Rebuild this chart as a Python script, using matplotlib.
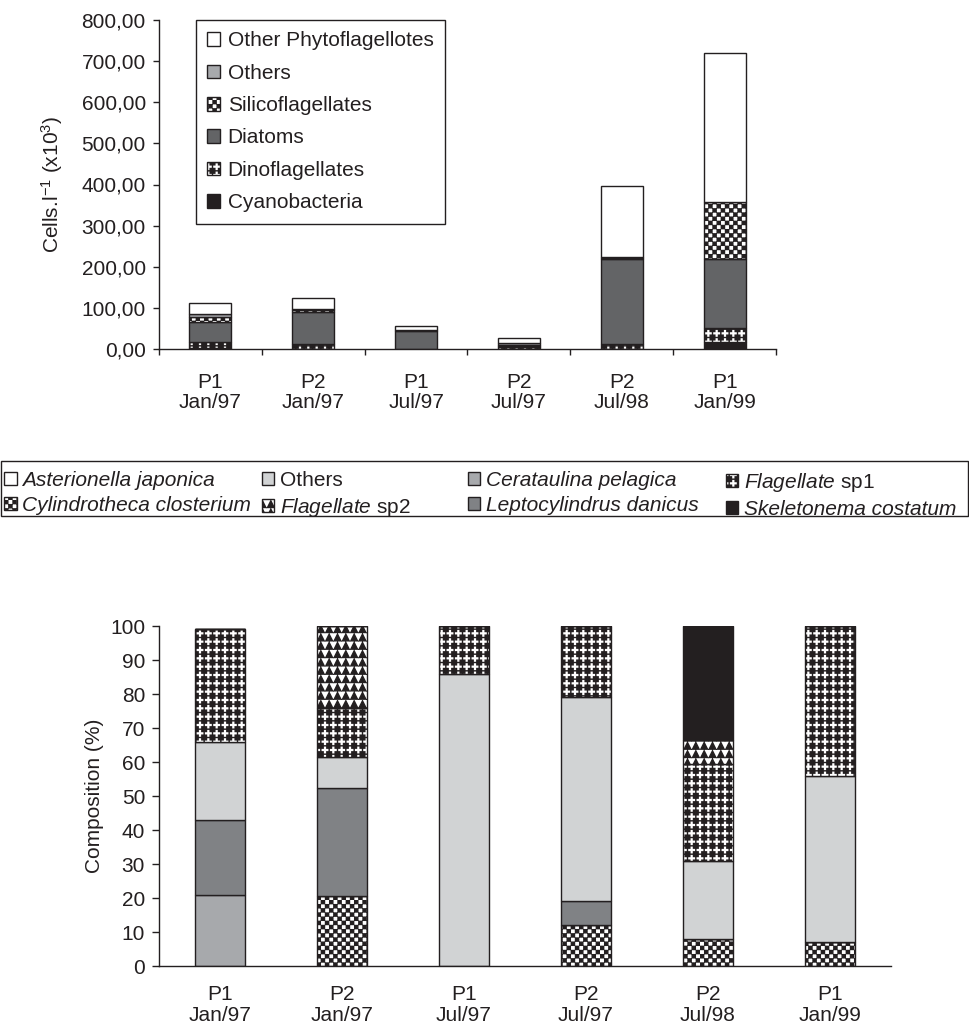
import warnings
warnings.filterwarnings("ignore")
import numpy as np
import matplotlib
matplotlib.use("Agg")
import matplotlib.pyplot as plt
import matplotlib.hatch as mhatch
from matplotlib.path import Path
from matplotlib.patches import Patch, Rectangle
from matplotlib.ticker import FuncFormatter, FixedLocator

# ---------------- data ----------------
categories = ["P1\nJan/97", "P2\nJan/97", "P1\nJul/97", "P2\nJul/97", "P2\nJul/98", "P1\nJan/99"]

# top chart: Cells.l-1 (x10^3), stacked bottom -> top
cyanobacteria = [3, 1, 0, 0, 1, 18]
dinoflagellates = [15, 11, 1, 4, 10, 34]
diatoms = [48, 77, 43, 4, 207, 168]
silicoflagellates = [12, 7, 1, 2, 4, 137]
others_top = [6, 2, 2, 4, 2, 0]
other_phytoflagellotes = [28, 26, 8, 12, 173, 363]

top_ticks = [0, 100, 200, 300, 400, 500, 600, 700, 800]

# bottom chart: composition (%), stacked bottom -> top
cylindrotheca = [0, 20.5, 0, 12, 8, 7]
cerataulina = [21, 0, 0, 0, 0, 0]
leptocylindrus = [22, 32, 0, 7, 0, 0]
others_bottom = [23, 9, 86, 60, 23, 49]
flagellate_sp1 = [33, 14.5, 14, 21, 28.5, 44]
flagellate_sp2 = [0, 24, 0, 0, 7, 0]
skeletonema = [0, 0, 0, 0, 33.5, 0]
asterionella = [0, 0, 0, 0, 0, 0]

bottom_ticks = [0, 10, 20, 30, 40, 50, 60, 70, 80, 90, 100]

# ---------------- custom hatches ----------------
class CheckerHatch(mhatch.HatchPatternBase):
    def __init__(self, hatch, density):
        n = hatch.count('c') * density
        if n % 2:
            n += 1
        self.n = n
        self.num_vertices = (n * n // 2) * 5 if n else 0

    def set_vertices_and_codes(self, vertices, codes):
        n = self.n
        cell = 1.0 / n
        m = cell * 0.12
        verts = []
        for j in range(n):
            for i in range(n):
                if (i + j) % 2 == 0:
                    x0, y0 = i * cell + m, j * cell + m
                    x1, y1 = (i + 1) * cell - m, (j + 1) * cell - m
                    verts.append([[x0, y0], [x1, y0], [x1, y1], [x0, y1], [x0, y0]])
        vertices[:] = np.array(verts).reshape(-1, 2)
        c = np.array([Path.MOVETO, Path.LINETO, Path.LINETO, Path.LINETO, Path.CLOSEPOLY],
                     dtype=Path.code_type)
        codes[:] = np.tile(c, len(verts))


class TriangleHatch(mhatch.HatchPatternBase):
    def __init__(self, hatch, density):
        n = hatch.count('t') * density
        self.n = n
        self.num_vertices = n * n * 4 if n else 0

    def set_vertices_and_codes(self, vertices, codes):
        n = self.n
        cell = 1.0 / n
        m = cell * 0.1
        verts = []
        for j in range(n):
            for i in range(n):
                x0, x1 = i * cell + m, (i + 1) * cell - m
                y0, y1 = j * cell + m, (j + 1) * cell - m
                verts.append([[x0, y0], [x1, y0], [(x0 + x1) / 2, y1], [x0, y0]])
        vertices[:] = np.array(verts).reshape(-1, 2)
        c = np.array([Path.MOVETO, Path.LINETO, Path.LINETO, Path.CLOSEPOLY], dtype=Path.code_type)
        codes[:] = np.tile(c, len(verts))


class CrossHatch(mhatch.HatchPatternBase):
    def __init__(self, hatch, density):
        n = hatch.count('p') * density
        self.n = n
        self.num_vertices = (n + 1) * (n + 1) * 13 if n else 0

    def set_vertices_and_codes(self, vertices, codes):
        n = self.n
        cell = 1.0 / n
        a = cell * 0.33
        w = cell * 0.05
        verts = []
        for j in range(n + 1):
            for i in range(n + 1):
                cx, cy = i * cell, j * cell
                verts.append([[cx - w, cy - a], [cx + w, cy - a], [cx + w, cy - w],
                              [cx + a, cy - w], [cx + a, cy + w], [cx + w, cy + w],
                              [cx + w, cy + a], [cx - w, cy + a], [cx - w, cy + w],
                              [cx - a, cy + w], [cx - a, cy - w], [cx - w, cy - w],
                              [cx - w, cy - a]])
        vertices[:] = np.array(verts).reshape(-1, 2)
        c = np.full(13, Path.LINETO, dtype=Path.code_type)
        c[0] = Path.MOVETO
        c[-1] = Path.CLOSEPOLY
        codes[:] = np.tile(c, len(verts))


mhatch._hatch_types.append(CheckerHatch)
mhatch._hatch_types.append(TriangleHatch)
mhatch._hatch_types.append(CrossHatch)

INK = '#231f20'
plt.rcParams.update({
    'font.family': ['Liberation Sans', 'DejaVu Sans'],
    'font.size': 15,
    'mathtext.fontset': 'custom',
    'mathtext.rm': 'Liberation Sans',
    'mathtext.it': 'Liberation Sans:italic',
    'mathtext.bf': 'Liberation Sans:bold',
    'hatch.linewidth': 1.0,
    'text.color': INK,
    'axes.edgecolor': INK,
    'axes.labelcolor': INK,
    'xtick.color': INK,
    'ytick.color': INK,
    'axes.linewidth': 1.0,
})

# styles: (facecolor, hatch, hatchcolor)
S_WHITE = ('white', None, None)
S_BLACK = (INK, None, None)
S_DGREY = ('#636466', None, None)
S_MGREY = ('#a7a9ac', None, None)
S_LGREY = ('#d1d3d4', None, None)
S_GREY2 = ('#808285', None, None)
S_CHECK = ('white', 'cccc', INK)
S_DOTS = (INK, 'pp', 'white')
S_TRI = ('white', 'tt', INK)


def draw_stack(ax, x, series, width):
    bottom = np.zeros(len(x))
    for vals, (fc, h, hc) in series:
        vals = np.asarray(vals, dtype=float)
        if h is None:
            ax.bar(x, vals, width, bottom=bottom, color=fc, edgecolor=INK, linewidth=1.0)
        else:
            ax.bar(x, vals, width, bottom=bottom, color=fc, edgecolor=hc, hatch=h, linewidth=0)
            ax.bar(x, vals, width, bottom=bottom, fill=False, edgecolor=INK, linewidth=1.0)
        bottom += vals


def handle(style):
    fc, h, hc = style
    if h is None:
        return Patch(facecolor=fc, edgecolor=INK, linewidth=1.0)
    return (Patch(facecolor=fc, edgecolor=hc, hatch=h, linewidth=0),
            Patch(facecolor='none', edgecolor=INK, linewidth=1.0))


W, H = 970, 1030
fig = plt.figure(figsize=(W / 100, H / 100), dpi=100)

# ---------------- top chart ----------------
ax1 = fig.add_axes([159 / W, 1 - 349 / H, (776 - 159) / W, (349 - 20) / H])
x = np.arange(len(categories))
top_series = [
    (cyanobacteria, S_BLACK),
    (dinoflagellates, S_DOTS),
    (diatoms, S_DGREY),
    (silicoflagellates, S_CHECK),
    (others_top, S_MGREY),
    (other_phytoflagellotes, S_WHITE),
]
draw_stack(ax1, x, top_series, 0.41)
ax1.set_xlim(-0.5, len(categories) - 0.5)
ax1.set_ylim(0, 800)
ax1.set_yticks(top_ticks)
ax1.yaxis.set_major_formatter(FuncFormatter(lambda v, p: f"{v:.2f}".replace('.', ',')))
ax1.xaxis.set_major_locator(FixedLocator(np.arange(len(categories) + 1) - 0.5))
ax1.xaxis.set_minor_locator(FixedLocator(x))
ax1.set_xticklabels([])
ax1.set_xticklabels(categories, minor=True, linespacing=1.1)
ax1.tick_params(axis='x', which='major', direction='out', length=4.5, width=1)
ax1.tick_params(axis='x', which='minor', length=0, pad=17)
ax1.tick_params(axis='y', direction='out', length=4.5, width=1, pad=5)
for s in ['top', 'right']:
    ax1.spines[s].set_visible(False)
ax1.set_ylabel(r'Cells.l$^{-1}$ (x10$^{3}$)', labelpad=12)

top_labels = ['Other Phytoflagellotes', 'Others', 'Silicoflagellates', 'Diatoms',
              'Dinoflagellates', 'Cyanobacteria']
top_styles = [S_WHITE, S_MGREY, S_CHECK, S_DGREY, S_DOTS, S_BLACK]
leg1 = ax1.legend([handle(s) for s in top_styles], top_labels, loc='upper left',
                  bbox_to_anchor=(196 / W, 1 - 20 / H), bbox_transform=fig.transFigure,
                  borderaxespad=0, frameon=True, fancybox=False, edgecolor=INK, framealpha=1,
                  borderpad=0.55, labelspacing=0.64, handlelength=0.62, handleheight=0.62,
                  handletextpad=0.35)
leg1.get_frame().set_linewidth(1.0)

# ---------------- bottom legend ----------------
fig.add_artist(Rectangle((1 / W, 1 - 516 / H), 967 / W, 55 / H, transform=fig.transFigure,
                         fill=False, edgecolor=INK, linewidth=1.0))
legend_cols = [
    (4, [('Asterionella japonica', S_WHITE, 'it'), ('Cylindrotheca closterium', S_CHECK, 'it')]),
    (262, [('Others', S_LGREY, 'n'), (r'$\mathit{Flagellate}$ sp2', S_TRI, 'n')]),
    (468, [('Cerataulina pelagica', S_MGREY, 'it'), ('Leptocylindrus danicus', S_GREY2, 'it')]),
    (726, [(r'$\mathit{Flagellate}$ sp1', S_DOTS, 'n'), ('Skeletonema costatum', S_BLACK, 'it')]),
]
for xpos, items in legend_cols:
    lg = fig.legend([handle(st) for _, st, _ in items], [lab for lab, _, _ in items],
                    loc='upper left', bbox_to_anchor=(xpos / W, 1 - 471 / H),
                    frameon=False, borderpad=0, borderaxespad=0, handlelength=0.6,
                    handleheight=0.6, handletextpad=0.25, labelspacing=0.28)
    for t, (_, _, sty) in zip(lg.get_texts(), items):
        if sty == 'it':
            t.set_fontstyle('italic')

# ---------------- bottom chart ----------------
ax2 = fig.add_axes([159 / W, 1 - 966 / H, (891 - 159) / W, (966 - 626) / H])
bottom_series = [
    (cylindrotheca, S_CHECK),
    (cerataulina, S_MGREY),
    (leptocylindrus, S_GREY2),
    (others_bottom, S_LGREY),
    (flagellate_sp1, S_DOTS),
    (flagellate_sp2, S_TRI),
    (skeletonema, S_BLACK),
    (asterionella, S_WHITE),
]
draw_stack(ax2, x, bottom_series, 0.41)
ax2.set_xlim(-0.5, len(categories) - 0.5)
ax2.set_ylim(0, 100)
ax2.set_yticks(bottom_ticks)
ax2.set_xticks(x)
ax2.set_xticklabels(categories, linespacing=1.1)
ax2.tick_params(axis='x', length=0, pad=14)
ax2.tick_params(axis='y', direction='out', length=5, width=1, pad=5)
for s in ['top', 'right']:
    ax2.spines[s].set_visible(False)
ax2.set_ylabel('Composition (%)', labelpad=4)

fig.savefig('out.png', dpi=100)
